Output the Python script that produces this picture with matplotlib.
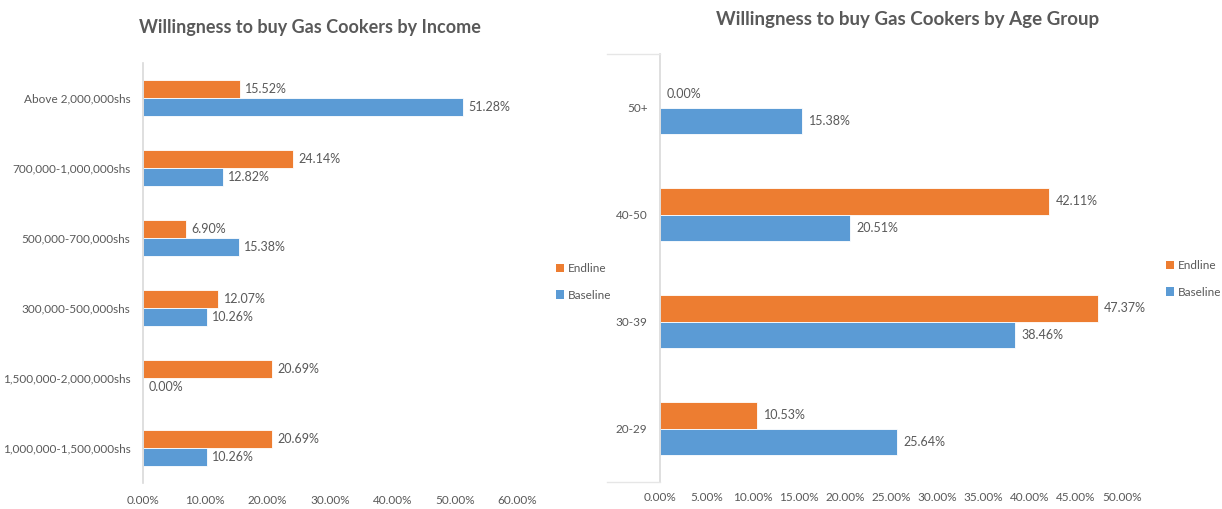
import matplotlib.pyplot as plt
from matplotlib.lines import Line2D
from matplotlib.patches import Patch
import numpy as np

# ── data ────────────────────────────────────────────────
income_groups = ["Above 2,000,000shs", "700,000-1,000,000shs", "500,000-700,000shs",
                 "300,000-500,000shs", "1,500,000-2,000,000shs", "1,000,000-1,500,000shs"]
income_endline = [15.52, 24.14, 6.90, 12.07, 20.69, 20.69]
income_baseline = [51.28, 12.82, 15.38, 10.26, 0.00, 10.26]

age_groups = ["50+", "40-50", "30-39", "20-29"]
age_endline = [0.00, 42.11, 47.37, 10.53]
age_baseline = [15.38, 20.51, 38.46, 25.64]

ORANGE = "#ED7D31"
BLUE = "#5B9BD5"
TEXT = "#595959"
AXIS = "#D9D9D9"

plt.rcParams['font.family'] = ['Lato', 'DejaVu Sans']

W, H = 1222, 509
fig = plt.figure(figsize=(W / 100, H / 100), dpi=100)


def px_axes(x0, y0, x1, y1):
    # axes placed by pixel box (top-left origin)
    return fig.add_axes([x0 / W, 1 - y1 / H, (x1 - x0) / W, (y1 - y0) / H])


def draw(ax, cats, endline, baseline, xmax, step, bar_h, title, title_xy, title_size,
         legend_xy, xpad):
    y = np.arange(len(cats))
    ax.barh(y - bar_h / 2, endline, height=bar_h, color=ORANGE, edgecolor="white", linewidth=0.6)
    ax.barh(y + bar_h / 2, baseline, height=bar_h, color=BLUE, edgecolor="white", linewidth=0.6)
    for yy, v in zip(y, endline):
        ax.text(v + xmax * 0.014, yy - bar_h / 2, f"{v:.2f}%", va="center", ha="left",
                fontsize=9, color=TEXT)
    for yy, v in zip(y, baseline):
        ax.text(v + xmax * 0.014, yy + bar_h / 2, f"{v:.2f}%", va="center", ha="left",
                fontsize=9, color=TEXT)
    ax.set_xlim(0, xmax)
    ax.set_ylim(len(cats) - 0.5, -0.5)
    ax.set_yticks(y)
    ax.set_yticklabels(cats, fontsize=8.5, color=TEXT)
    ticks = np.arange(0, xmax + 0.01, step)
    ax.set_xticks(ticks)
    ax.set_xticklabels([f"{t:.2f}%" for t in ticks], fontsize=8.5, color=TEXT)
    ax.tick_params(axis="x", length=0, pad=xpad)
    ax.tick_params(axis="y", length=0, pad=9)
    for s in ["top", "right", "bottom"]:
        ax.spines[s].set_visible(False)
    ax.spines["left"].set_color(AXIS)
    ax.spines["left"].set_linewidth(1.2)
    fig.text(title_xy[0] / W, 1 - title_xy[1] / H, title, ha="center", va="center",
             fontsize=title_size, fontweight="bold", color=TEXT)
    handles = [Patch(facecolor=ORANGE, label="Endline"), Patch(facecolor=BLUE, label="Baseline")]
    fig.legend(handles=handles, loc="center left",
               bbox_to_anchor=(legend_xy[0] / W, 1 - legend_xy[1] / H),
               frameon=False, fontsize=8.5, handlelength=0.7, handleheight=0.7,
               handletextpad=0.3, labelspacing=1.3, labelcolor=TEXT, borderpad=0)


ax1 = px_axes(143, 63, 517, 483)
draw(ax1, income_groups, income_endline, income_baseline, 60, 10, 0.26,
     "Willingness to buy Gas Cookers by Income", (310, 27), 13, (550, 282), 9)

ax2 = px_axes(660, 54, 1122, 482)
draw(ax2, age_groups, age_endline, age_baseline, 50, 5, 0.25,
     "Willingness to buy Gas Cookers by Age Group", (908, 20), 13.5, (1160, 279), 7)

# faint chart-area edge at the left of the second chart
for yy in (54, 482):
    fig.add_artist(Line2D([607 / W, 660 / W], [1 - yy / H, 1 - yy / H], color="#E6E6E6", lw=1))

fig.savefig("out.png", dpi=100, facecolor="white")
